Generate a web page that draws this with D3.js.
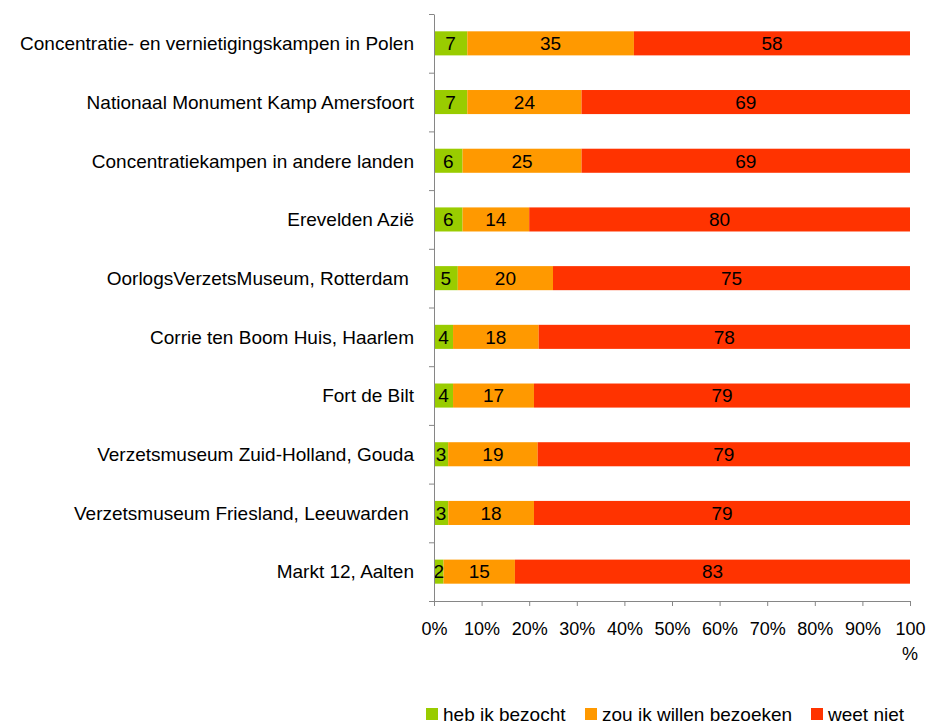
<!DOCTYPE html>
<html>
<head>
<meta charset="utf-8">
<script src="https://cdn.jsdelivr.net/npm/d3@7"></script>
<style>
body { margin: 0; background: #fff; }
text { font-family: "Liberation Sans", Arial, sans-serif; fill: #000; }
</style>
</head>
<body>
<script>
var categories = [
	"Concentratie- en vernietigingskampen in Polen",
	"Nationaal Monument Kamp Amersfoort",
	"Concentratiekampen in andere landen",
	"Erevelden Azië",
	"OorlogsVerzetsMuseum, Rotterdam ",
	"Corrie ten Boom Huis, Haarlem",
	"Fort de Bilt",
	"Verzetsmuseum Zuid-Holland, Gouda",
	"Verzetsmuseum Friesland, Leeuwarden ",
	"Markt 12, Aalten"
];
var bezocht = [7, 7, 6, 6, 5, 4, 4, 3, 3, 2];
var willen = [35, 24, 25, 14, 20, 18, 17, 19, 18, 15];
var weetNiet = [58, 69, 69, 80, 75, 78, 79, 79, 79, 83];
var seriesNames = ["heb ik bezocht", "zou ik willen bezoeken", "weet niet"];
var xTicks = [0, 0.1, 0.2, 0.3, 0.4, 0.5, 0.6, 0.7, 0.8, 0.9, 1];

var colors = ["#99cc00", "#ff9900", "#ff3300"];
var keys = ["a", "b", "c"];

var width = 928, height = 724;
var margin = {top: 14, left: 434, right: 18, bottom: 123};

var rows = categories.map(function(c, i){
	return {cat: c, a: bezocht[i], b: willen[i], c: weetNiet[i]};
});

// 100% stacked, like the spreadsheet did it
var stacked = d3.stack().keys(keys).offset(d3.stackOffsetExpand)(rows);

var xScale = d3.scaleLinear()
	.domain([0, 1])
	.range([margin.left, width - margin.right]);

var yScale = d3.scaleBand()
	.domain(categories)
	.range([margin.top, height - margin.bottom])
	.paddingInner(0.59)
	.paddingOuter(0.295);

// category ticks sit between the bars
var yEdge = d3.scaleLinear()
	.domain([0, categories.length])
	.range([margin.top, height - margin.bottom]);

var svg = d3.select("body").append("svg")
	.attr("width", width)
	.attr("height", height);

// bars
var layer = svg.append("g")
	.selectAll("g")
	.data(stacked)
	.enter().append("g")
	.attr("fill", function(d, i){ return colors[i]; });

layer.selectAll("rect")
	.data(function(d){ return d; })
	.enter().append("rect")
	.attr("x", function(d){ return xScale(d[0]); })
	.attr("y", function(d){ return yScale(d.data.cat); })
	.attr("width", function(d){ return xScale(d[1]) - xScale(d[0]); })
	.attr("height", yScale.bandwidth());

// value labels
stacked.forEach(function(s){
	svg.append("g")
		.selectAll("text")
		.data(s)
		.enter().append("text")
		.attr("x", function(d){ return (xScale(d[0]) + xScale(d[1])) / 2; })
		.attr("y", function(d){ return yScale(d.data.cat) + yScale.bandwidth() / 2; })
		.attr("dy", "0.36em")
		.attr("text-anchor", "middle")
		.style("font-size", "19px")
		.text(function(d){ return d.data[s.key]; });
});

// y axis
var yAxis = d3.axisLeft(yEdge)
	.tickValues(d3.range(categories.length + 1))
	.tickSize(5)
	.tickSizeOuter(0)
	.tickFormat("");

var gy = svg.append("g")
	.attr("transform", "translate(" + margin.left + ",0)")
	.call(yAxis);
gy.selectAll("path, line").attr("stroke", "#868686");

svg.append("g")
	.selectAll("text")
	.data(categories)
	.enter().append("text")
	.attr("x", margin.left - 20)
	.attr("y", function(d){ return yScale(d) + yScale.bandwidth() / 2; })
	.attr("dy", "0.36em")
	.attr("text-anchor", "end")
	.style("font-size", "19px")
	.style("white-space", "pre")
	.text(function(d){ return d; });

// x axis
var xAxis = d3.axisBottom(xScale)
	.tickValues(xTicks)
	.tickSize(5)
	.tickSizeOuter(0)
	.tickPadding(16)
	.tickFormat(function(d){ return d === 1 ? "100" : d3.format(".0%")(d); });

var gx = svg.append("g")
	.attr("transform", "translate(0," + (height - margin.bottom) + ")")
	.call(xAxis);
gx.selectAll("path, line").attr("stroke", "#868686");
gx.selectAll("text")
	.style("font-family", "'Liberation Sans', Arial, sans-serif")
	.style("font-size", "18px")
	.attr("fill", "#000");

svg.append("text")
	.attr("x", xScale(1))
	.attr("y", height - margin.bottom + 59)
	.attr("text-anchor", "middle")
	.style("font-size", "18px")
	.text("%");

// legend
var legendX = [426, 585, 811];
var legend = svg.append("g")
	.selectAll("g")
	.data(seriesNames)
	.enter().append("g")
	.attr("transform", function(d, i){ return "translate(" + legendX[i] + ",708)"; });

legend.append("rect")
	.attr("width", 12)
	.attr("height", 12)
	.attr("fill", function(d, i){ return colors[i]; });

legend.append("text")
	.attr("x", 17)
	.attr("y", 6)
	.attr("dy", "0.36em")
	.style("font-size", "19px")
	.text(function(d){ return d; });
</script>
</body>
</html>
